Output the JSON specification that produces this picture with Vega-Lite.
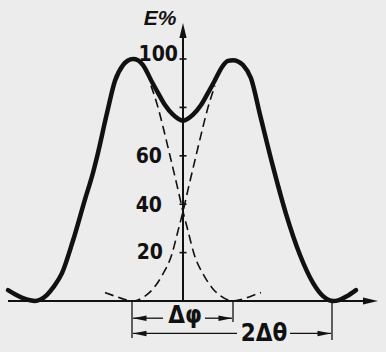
{
  "$schema": "https://vega.github.io/schema/vega-lite/v6.json",
  "width": 386,
  "height": 352,
  "autosize": {"type": "none"},
  "padding": 0,
  "background": "#ececec",
  "config": {"view": {"stroke": null}},
  "datasets": {
    "solid": [
      {"x": -1.75, "y": 4.5}, {"x": -1.68, "y": 2.8}, {"x": -1.6, "y": 1.2}, {"x": -1.53, "y": 0.3}, {"x": -1.48, "y": 0},
      {"x": -1.43, "y": 0.5}, {"x": -1.36, "y": 2.5}, {"x": -1.3, "y": 5.5}, {"x": -1.21, "y": 11.5}, {"x": -1.1, "y": 25},
      {"x": -0.98, "y": 42}, {"x": -0.9, "y": 53}, {"x": -0.86, "y": 59.5}, {"x": -0.76, "y": 77.7}, {"x": -0.68, "y": 91},
      {"x": -0.6, "y": 97.5}, {"x": -0.55, "y": 99.4}, {"x": -0.5, "y": 100}, {"x": -0.45, "y": 99.5}, {"x": -0.4, "y": 97.5},
      {"x": -0.31, "y": 90.5}, {"x": -0.25, "y": 86}, {"x": -0.18, "y": 81}, {"x": -0.1, "y": 77}, {"x": 0, "y": 74.5},
      {"x": 0.1, "y": 77}, {"x": 0.18, "y": 81}, {"x": 0.25, "y": 86}, {"x": 0.31, "y": 90.5}, {"x": 0.4, "y": 97.3},
      {"x": 0.45, "y": 99.2}, {"x": 0.5, "y": 99.5}, {"x": 0.55, "y": 99}, {"x": 0.6, "y": 97.5}, {"x": 0.68, "y": 92},
      {"x": 0.77, "y": 77}, {"x": 0.9, "y": 55.5}, {"x": 1.03, "y": 36}, {"x": 1.17, "y": 19}, {"x": 1.3, "y": 7.5},
      {"x": 1.4, "y": 2}, {"x": 1.46, "y": 0.4}, {"x": 1.5, "y": 0}, {"x": 1.56, "y": 0.4}, {"x": 1.64, "y": 2}, {"x": 1.73, "y": 4.5}
    ],
    "dashed": [
      {"s": "R", "x": 0.32, "y": 89}, {"s": "R", "x": 0.25, "y": 80}, {"s": "R", "x": 0.2, "y": 72}, {"s": "R", "x": 0.13, "y": 60},
      {"s": "R", "x": 0.05, "y": 46}, {"s": "R", "x": 0, "y": 37}, {"s": "R", "x": -0.05, "y": 29}, {"s": "R", "x": -0.11, "y": 19.5},
      {"s": "R", "x": -0.21, "y": 10.5}, {"s": "R", "x": -0.3, "y": 5}, {"s": "R", "x": -0.38, "y": 2}, {"s": "R", "x": -0.45, "y": 0.4},
      {"s": "R", "x": -0.5, "y": 0}, {"s": "R", "x": -0.58, "y": 0.6}, {"s": "R", "x": -0.68, "y": 2}, {"s": "R", "x": -0.78, "y": 3.5},
      {"s": "L", "x": -0.32, "y": 89}, {"s": "L", "x": -0.25, "y": 80}, {"s": "L", "x": -0.2, "y": 72}, {"s": "L", "x": -0.13, "y": 60},
      {"s": "L", "x": -0.05, "y": 46}, {"s": "L", "x": 0, "y": 37}, {"s": "L", "x": 0.05, "y": 29}, {"s": "L", "x": 0.11, "y": 19.5},
      {"s": "L", "x": 0.21, "y": 10.5}, {"s": "L", "x": 0.3, "y": 5}, {"s": "L", "x": 0.38, "y": 2}, {"s": "L", "x": 0.45, "y": 0.4},
      {"s": "L", "x": 0.5, "y": 0}, {"s": "L", "x": 0.58, "y": 0.6}, {"s": "L", "x": 0.68, "y": 2}, {"s": "L", "x": 0.78, "y": 3.5}
    ],
    "axes": [
      {"x": -1.75, "x2": 1.9, "y": 0, "y2": 0},
      {"x": 0, "x2": 0, "y": 0, "y2": 111}
    ],
    "dims": [
      {"x": -0.51, "x2": -0.51, "y": 0, "y2": -15.3},
      {"x": 0.5, "x2": 0.5, "y": 0, "y2": -8.7},
      {"x": 1.49, "x2": 1.49, "y": 0, "y2": -16.1},
      {"x": -0.5, "x2": -0.2, "y": -7.1, "y2": -7.1},
      {"x": 0.22, "x2": 0.49, "y": -7.1, "y2": -7.1},
      {"x": -0.5, "x2": 0.54, "y": -13.4, "y2": -13.4},
      {"x": 1.07, "x2": 1.48, "y": -13.4, "y2": -13.4}
    ],
    "heads": [
      {"x": 1.95, "y": 0, "d": "axisR"},
      {"x": 0, "y": 114.9, "d": "axisU"},
      {"x": -0.5, "y": -7.1, "d": "dimL"},
      {"x": 0.49, "y": -7.1, "d": "dimR"},
      {"x": -0.5, "y": -13.4, "d": "dimL"},
      {"x": 1.48, "y": -13.4, "d": "dimR"}
    ],
    "ticks": [
      {"x": 0, "y": 20}, {"x": 0, "y": 40}, {"x": 0, "y": 60}, {"x": 0, "y": 80}, {"x": 0, "y": 100}
    ],
    "labels": [
      {"x": -0.05, "y": 101.7, "t": "100"},
      {"x": -0.21, "y": 59.5, "t": "60"},
      {"x": -0.21, "y": 39.3, "t": "40"},
      {"x": -0.2, "y": 19.8, "t": "20"}
    ],
    "notes": [
      {"x": 0.02, "y": -6.2, "t": "Δφ"},
      {"x": 0.81, "y": -13.8, "t": "2Δθ"}
    ],
    "title": [
      {"x": -0.23, "y": 116.5, "t": "E%"}
    ]
  },
  "encoding": {
    "x": {"field": "x", "type": "quantitative", "scale": {"domain": [-1.83, 2.03], "nice": false, "zero": false}, "axis": null},
    "y": {"field": "y", "type": "quantitative", "scale": {"domain": [-21.07, 124.38], "nice": false, "zero": false}, "axis": null}
  },
  "layer": [
    {
      "data": {"name": "axes"},
      "mark": {"type": "rule", "strokeWidth": 2, "color": "#111"},
      "encoding": {"x2": {"field": "x2"}, "y2": {"field": "y2"}}
    },
    {
      "data": {"name": "dims"},
      "mark": {"type": "rule", "strokeWidth": 1.3, "color": "#111"},
      "encoding": {"x2": {"field": "x2"}, "y2": {"field": "y2"}}
    },
    {
      "data": {"name": "ticks"},
      "mark": {"type": "point", "shape": "stroke", "size": 49, "strokeWidth": 1.6, "color": "#111", "filled": false, "opacity": 1}
    },
    {
      "data": {"name": "heads"},
      "mark": {"type": "point", "filled": true, "size": 36, "color": "#111", "opacity": 1},
      "encoding": {
        "shape": {"field": "d", "type": "nominal", "legend": null,
          "scale": {"domain": ["axisR", "axisU", "dimL", "dimR"],
            "range": ["M0,0L-5,-1.2L-5,1.2Z", "M0,0L-1.2,5L1.2,5Z", "M0,0L4.5,-0.9L4.5,0.9Z", "M0,0L-4.5,-0.9L-4.5,0.9Z"]}}
      }
    },
    {
      "data": {"name": "dashed"},
      "mark": {"type": "line", "interpolate": "monotone", "strokeWidth": 1.6, "strokeDash": [9, 5], "color": "#111"},
      "encoding": {"detail": {"field": "s"}}
    },
    {
      "data": {"name": "solid"},
      "mark": {"type": "line", "interpolate": "monotone", "strokeWidth": 4.5, "strokeCap": "round", "color": "#111"}
    },
    {
      "data": {"name": "labels"},
      "mark": {"type": "text", "align": "right", "baseline": "middle", "fontSize": 21, "fontWeight": "bold", "font": "Liberation Sans Narrow, DejaVu Sans Condensed, sans-serif", "color": "#111"},
      "encoding": {"text": {"field": "t"}}
    },
    {
      "data": {"name": "notes"},
      "mark": {"type": "text", "align": "center", "baseline": "middle", "fontSize": 24, "fontWeight": "bold", "font": "Liberation Sans Narrow, DejaVu Sans Condensed, sans-serif", "color": "#111"},
      "encoding": {"text": {"field": "t"}}
    },
    {
      "data": {"name": "title"},
      "mark": {"type": "text", "align": "center", "baseline": "middle", "fontSize": 21, "fontWeight": "bold", "fontStyle": "italic", "font": "Liberation Sans, DejaVu Sans, sans-serif", "color": "#111"},
      "encoding": {"text": {"field": "t"}}
    }
  ]
}
